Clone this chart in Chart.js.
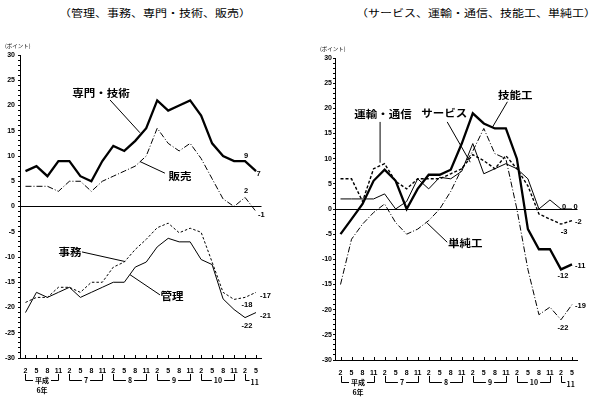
<!DOCTYPE html>
<html lang="ja">
<head>
<meta charset="utf-8">
<script src="https://cdn.jsdelivr.net/npm/chart.js@4.4.1/dist/chart.umd.min.js"></script>
<style>
  body { margin: 0; background: #fff; }
  #pagina { position: relative; width: 600px; height: 397px; overflow: hidden; }
  .painel { position: absolute; top: 0; width: 300px; height: 397px; }
  .titulo { position: absolute; top: 5px; font: 10px "Noto Sans CJK JP"; color: #000; white-space: nowrap; transform: scaleX(1.2); transform-origin: left top; }
</style>
</head>
<body>
<div id="pagina">
  <div class="titulo" style="left:59px">（管理、事務、専門・技術、販売）</div>
  <div class="titulo" style="left:356px">（サービス、運輸・通信、技能工、単純工）</div>
  <div class="painel" style="left:0"><canvas id="graficoEsq" width="300" height="397"></canvas></div>
  <div class="painel" style="left:300px"><canvas id="graficoDir" width="300" height="397"></canvas></div>
</div>
<script>
const meses = ['2', '5', '8', '11', '2', '5', '8', '11', '2', '5', '8', '11',
  '2', '5', '8', '11', '2', '5', '8', '11', '2', '5'];
const ticksY = [-30, -25, -20, -15, -10, -5, 0, 5, 10, 15, 20, 25, 30];

// painel esquerdo
const kanri = [-21, -17, -18, -17, -16, -18, -17, -16, -15, -15, -12, -11, -8, -6.3, -7, -7, -10.5, -11.5, -18.3, -20.4, -22, -21];
const jimu = [-19, -18, -18, -16, -16, -17, -15, -15, -12, -11, -8.5, -6.5, -4.2, -3.3, -5.2, -4.3, -5.1, -11, -17, -18.4, -18, -17];
const senmonGijutsu = [7, 8, 6, 9, 9, 6, 5, 9, 12, 11, 13, 15.5, 21, 19, 20, 21, 18, 12.5, 10, 9, 9, 7];
const hanbai = [4, 4, 4, 3, 5, 5, 3, 5, 6, 7, 8, 10, 15.5, 12.5, 11, 12.5, 9.5, 5.5, 1.5, 0, 1.8, -1];

// painel direito
const service = [2, 2, 2, 2, 3, 0, 1.5, 6, 4, 6.3, 6, 7.5, 13, 7, 8, 9, 8, 6, 0, 1.8, 0, 0];
const unyuTsushin = [6, 6, 1.5, 8, 9, 5.5, 4, 6, 6, 6, 7, 8, 10.8, 9.6, 8, 10.6, 8, 4.6, -1, -2, -3, -2.3];
const ginoko = [-5, -2, 1, 5.6, 7.8, 5.6, 0, 4, 6.8, 6.8, 7.8, 13, 19, 17, 16, 16, 10, -4, -8, -8, -12, -11];
const tanjunko = [-15, -6, -3, -0.7, 1, -2.7, -5, -4, -2.3, 0, 3.5, 8, 11.5, 16, 11, 10, 0, -12, -21, -19.5, -22, -19];

const anos = [
  { texto: '平成', sub: '6年', de: 0, ate: 3 },
  { texto: '7', de: 4, ate: 7 },
  { texto: '8', de: 8, ate: 11 },
  { texto: '9', de: 12, ate: 15 },
  { texto: '10', de: 16, ate: 19 },
  { texto: '11', de: 20, ate: 21, aberto: true }
];

const notasEsq = [
  { texto: '専門・技術', x: 6.88, y: 22.5, de: [7.7, 21.1], ate: [10.43, 14.6] },
  { texto: '販売', x: 14.08, y: 6.0, de: [12.7, 6.6], ate: [10.43, 8.9] },
  { texto: '事務', x: 4.05, y: -9.0, de: [5.15, -9.0], ate: [9.07, -10.9] },
  { texto: '管理', x: 13.35, y: -17.7, de: [12.25, -17.5], ate: [9.52, -13.5] }
];
const notasDir = [
  { texto: '運輸・通信', x: 3.86, y: 18.9, de: [3.59, 17.3], ate: [3.59, 9.2] },
  { texto: 'サービス', x: 9.41, y: 19.1, de: [9.68, 17.3], ate: [11.77, 9.3] },
  { texto: '技能工', x: 15.86, y: 22.6, de: [15.14, 21.3], ate: [13.77, 16.2] },
  { texto: '単純工', x: 11.32, y: -6.8, de: [9.68, -6.6], ate: [7.86, -2.8] }
];

const rotulosEsq = [
  { serie: senmonGijutsu, i: 20, texto: '9', dx: 1, dy: -5 },
  { serie: senmonGijutsu, i: 21, texto: '7', dx: 2.5, dy: 3 },
  { serie: hanbai, i: 20, texto: '2', dx: 1, dy: -6 },
  { serie: hanbai, i: 21, texto: '-1', dx: 2, dy: 3, esq: true },
  { serie: jimu, i: 21, texto: '-17', dx: 4, dy: 3.5, esq: true },
  { serie: jimu, i: 20, texto: '-18', dx: 2, dy: 8 },
  { serie: kanri, i: 21, texto: '-21', dx: 4, dy: 3.5, esq: true },
  { serie: kanri, i: 20, texto: '-22', dx: 2, dy: 8 }
];
const rotulosDir = [
  { serie: service, i: 20, texto: '0', dx: 3, dy: -2.5 },
  { serie: service, i: 21, texto: '0', dx: 3.5, dy: -2.5 },
  { serie: unyuTsushin, i: 21, texto: '-2', dx: 3, dy: 1, esq: true },
  { serie: unyuTsushin, i: 20, texto: '-3', dx: 3, dy: 8 },
  { serie: ginoko, i: 21, texto: '-11', dx: 3, dy: 2, esq: true },
  { serie: ginoko, i: 20, texto: '-12', dx: 2, dy: 7 },
  { serie: tanjunko, i: 21, texto: '-19', dx: 3, dy: 1, esq: true },
  { serie: tanjunko, i: 20, texto: '-22', dx: 2, dy: 8 }
];

Chart.defaults.font.family = '"Liberation Sans", sans-serif';
Chart.defaults.color = '#000';

function textoLargo(ctx, texto, x, y, escala) {
  ctx.save();
  ctx.translate(x, y);
  ctx.scale(escala, 1);
  ctx.fillText(texto, 0, 0);
  ctx.restore();
}

function criarDesenhos(notas, rotulos, unidadeX) {
  return {
    id: 'desenhos',
    afterDatasetsDraw(chart) {
      const ctx = chart.ctx;
      const x = chart.scales.x;
      const y = chart.scales.y;
      const area = chart.chartArea;
      ctx.save();
      ctx.strokeStyle = '#000';
      ctx.fillStyle = '#000';
      ctx.lineWidth = 1;

      // marcas do eixo x (para dentro)
      meses.forEach((m, i) => {
        const px = Math.round(x.getPixelForValue(i)) + 0.5;
        ctx.beginPath();
        ctx.moveTo(px, area.bottom);
        ctx.lineTo(px, area.bottom - 3);
        ctx.stroke();
      });

      // colchetes dos anos
      const yt = area.bottom + 16;
      const yl = Math.round(area.bottom + 22) + 0.5;
      ctx.font = 'bold 7px "Noto Sans CJK JP"';
      ctx.textBaseline = 'middle';
      anos.forEach(a => {
        const x1 = Math.round(x.getPixelForValue(a.de)) + 0.5;
        const x2 = Math.round(x.getPixelForValue(a.ate)) + 0.5;
        if (a.aberto) {
          ctx.beginPath();
          ctx.moveTo(x1, yt);
          ctx.lineTo(x1, yl);
          ctx.lineTo(x1 + 4, yl);
          ctx.stroke();
          ctx.textAlign = 'left';
          ctx.fillText(a.texto, x1 + 5, yl + 2);
          return;
        }
        const meio = (x1 + x2) / 2;
        const w = ctx.measureText(a.texto).width / 2 + 2;
        ctx.beginPath();
        ctx.moveTo(x1, yt);
        ctx.lineTo(x1, yl);
        ctx.lineTo(meio - w, yl);
        ctx.moveTo(meio + w, yl);
        ctx.lineTo(x2, yl);
        ctx.lineTo(x2, yt);
        ctx.stroke();
        ctx.textAlign = 'center';
        ctx.fillText(a.texto, meio, yl);
        if (a.sub) ctx.fillText(a.sub, meio, yl + 10);
      });

      // nomes das series
      ctx.font = 'bold 10px "Noto Sans CJK JP"';
      ctx.textAlign = 'center';
      notas.forEach(n => {
        textoLargo(ctx, n.texto, x.getPixelForValue(n.x), y.getPixelForValue(n.y), 1.15);
        ctx.beginPath();
        ctx.moveTo(x.getPixelForValue(n.de[0]), y.getPixelForValue(n.de[1]));
        ctx.lineTo(x.getPixelForValue(n.ate[0]), y.getPixelForValue(n.ate[1]));
        ctx.stroke();
      });

      // valores no fim das linhas
      ctx.font = 'bold 7.5px "Liberation Sans"';
      rotulos.forEach(r => {
        ctx.textAlign = r.esq ? 'left' : 'center';
        const px = x.getPixelForValue(r.i) + r.dx;
        const py = y.getPixelForValue(r.serie[r.i]) + r.dy;
        ctx.fillText(r.texto, px, py);
      });

      // unidade
      ctx.font = '5.5px "Noto Sans CJK JP"';
      ctx.textAlign = 'left';
      ctx.fillText('(ポイント)', unidadeX, area.top - 9);
      ctx.restore();
    }
  };
}

function gerarGrafico(idCanvas, series, cfg) {
  const ctx = document.getElementById(idCanvas).getContext('2d');
  new Chart(ctx, {
    type: 'line',
    data: {
      labels: meses,
      datasets: series.map(s => ({
        label: s.nome,
        data: s.dados,
        borderColor: '#000',
        borderWidth: s.largura,
        borderDash: s.traco,
        pointRadius: 0,
        tension: 0,
        fill: false
      }))
    },
    options: {
      responsive: false,
      animation: false,
      devicePixelRatio: 1,
      layout: {
        padding: { top: cfg.topo, right: cfg.direita, left: 0, bottom: 0 }
      },
      plugins: {
        legend: { display: false },
        tooltip: { enabled: false }
      },
      scales: {
        x: {
          offset: true,
          grid: { display: false, drawTicks: false },
          border: { color: '#000', width: 1 },
          ticks: {
            font: { size: 7, weight: 'bold' },
            padding: 9,
            maxRotation: 0,
            autoSkip: false
          },
          afterFit: s => { s.height = cfg.alturaX; }
        },
        y: {
          min: -30,
          max: 30,
          ticks: {
            stepSize: 1,
            autoSkip: false,
            padding: cfg.padY,
            font: { size: 7, weight: 'bold' },
            callback: v => ticksY.includes(v) ? String(v) : ''
          },
          grid: {
            color: c => (c.tick && c.tick.value === 0) ? '#000' : 'rgba(0,0,0,0)',
            tickColor: '#000',
            tickLength: 2,
            lineWidth: 1
          },
          border: { color: '#000', width: 1 },
          afterFit: s => { s.width = cfg.larguraY; }
        }
      }
    },
    plugins: [criarDesenhos(cfg.notas, cfg.rotulos, cfg.unidadeX)]
  });
}

function montarPagina() {
  gerarGrafico('graficoEsq', [
    { nome: '専門・技術', dados: senmonGijutsu, largura: 2.3, traco: [] },
    { nome: '販売', dados: hanbai, largura: 1, traco: [6, 2, 1, 2] },
    { nome: '管理', dados: kanri, largura: 1, traco: [] },
    { nome: '事務', dados: jimu, largura: 1, traco: [2.5, 2] }
  ], { topo: 55, direita: 38.5, larguraY: 20, alturaX: 39, padY: 3, unidadeX: 5, notas: notasEsq, rotulos: rotulosEsq });

  gerarGrafico('graficoDir', [
    { nome: 'サービス', dados: service, largura: 1, traco: [] },
    { nome: '運輸・通信', dados: unyuTsushin, largura: 1.4, traco: [3, 2] },
    { nome: '単純工', dados: tanjunko, largura: 1, traco: [6, 2, 1, 2] },
    { nome: '技能工', dados: ginoko, largura: 2.3, traco: [] }
  ], { topo: 58, direita: 22.5, larguraY: 35, alturaX: 37, padY: 1, unidadeX: 20, notas: notasDir, rotulos: rotulosDir });
}

window.onload = montarPagina;
</script>
</body>
</html>
